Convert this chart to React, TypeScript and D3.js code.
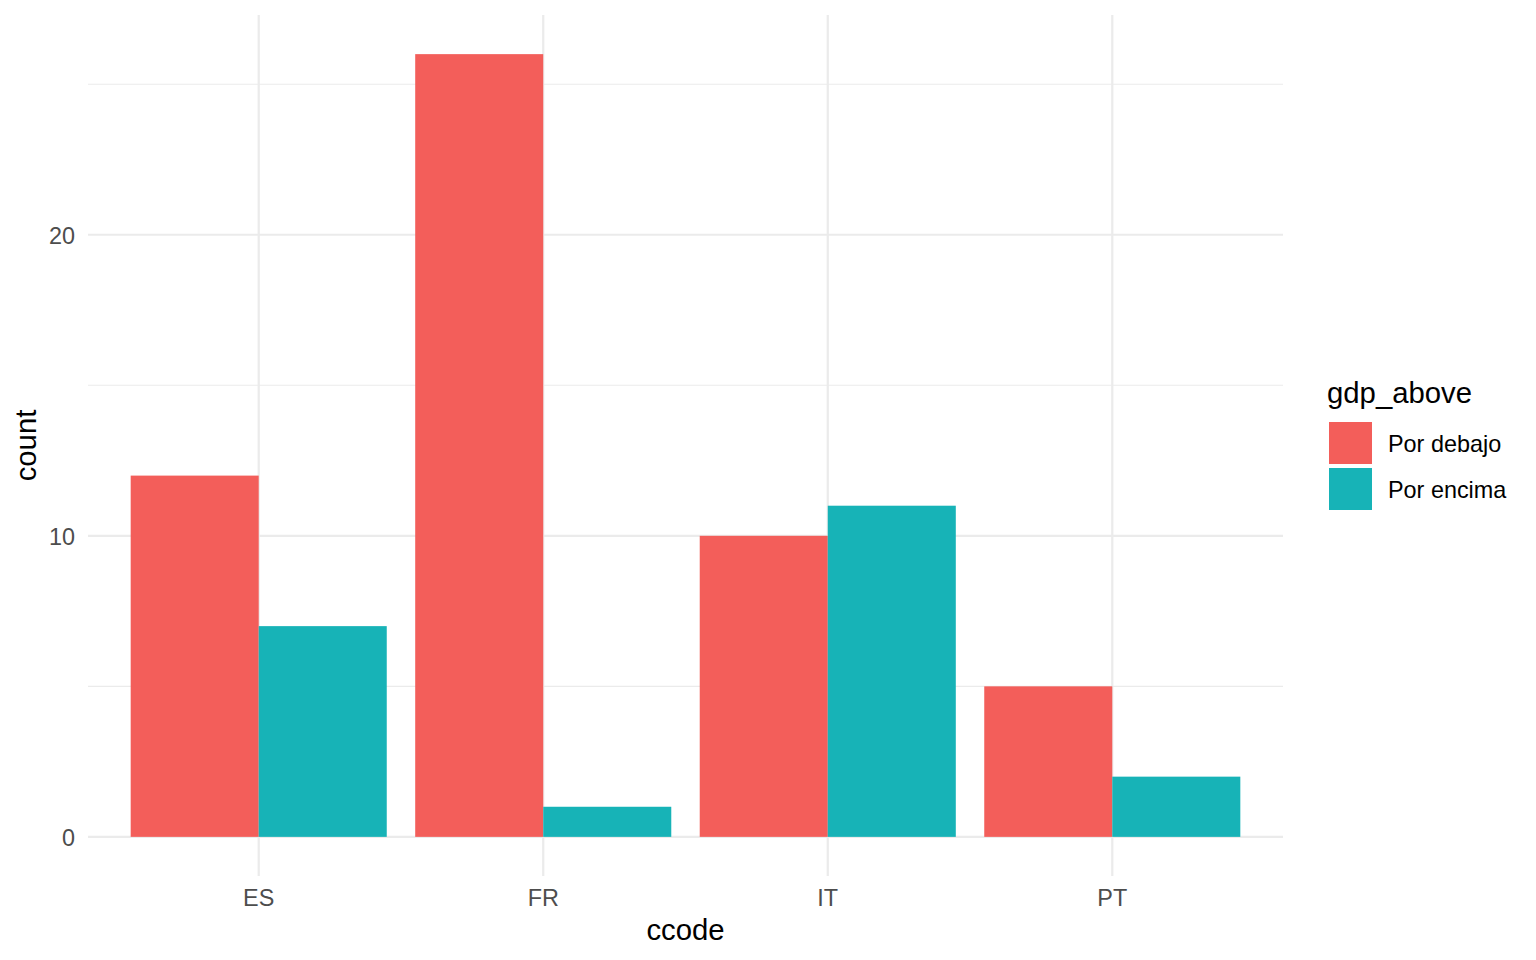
import React from "react";
import * as d3 from "d3";

const categories = ["ES", "FR", "IT", "PT"];
const groups = ["Por debajo", "Por encima"];
const porDebajo = [12, 26, 10, 5];
const porEncima = [7, 1, 11, 2];
const barColors = ["#F35E5A", "#17B3B7"];
const yMajor = [0, 10, 20];
const yMinor = [5, 15, 25];

const W = 1536;
const H = 960;
const panel = { left: 88, right: 1283, top: 15, bottom: 876 };

export default function App() {
  const x = d3
    .scaleLinear()
    .domain([0.4, 4.6])
    .range([panel.left, panel.right]);
  const y = d3
    .scaleLinear()
    .domain([-1.3, 27.3])
    .range([panel.bottom, panel.top]);
  const series = [porDebajo, porEncima];
  const bw = 0.45;
  const font = "'Liberation Sans', Arial, Helvetica, sans-serif";
  const tickFs = 23.4;
  const titleFs = 29.3;

  return (
    <svg
      width={W}
      height={H}
      style={{ position: "fixed", left: 0, top: 0, background: "#fff" }}
      fontFamily={font}
    >
      {yMinor.map((v) => (
        <line key={"mi" + v} x1={panel.left} x2={panel.right} y1={y(v)} y2={y(v)} stroke="#EBEBEB" strokeWidth={1.1} />
      ))}
      {yMajor.map((v) => (
        <line key={"ma" + v} x1={panel.left} x2={panel.right} y1={y(v)} y2={y(v)} stroke="#EBEBEB" strokeWidth={2.2} />
      ))}
      {categories.map((c, i) => (
        <line key={"vx" + c} x1={x(i + 1)} x2={x(i + 1)} y1={panel.top} y2={panel.bottom} stroke="#EBEBEB" strokeWidth={2.2} />
      ))}
      {series.map((vals, g) =>
        vals.map((v, i) => {
          const x0 = x(i + 1 - bw + g * bw);
          const x1 = x(i + 1 + g * bw);
          return (
            <rect
              key={g + "-" + i}
              x={x0}
              y={y(v)}
              width={x1 - x0}
              height={y(0) - y(v)}
              fill={barColors[g]}
            />
          );
        })
      )}
      {yMajor.map((v) => (
        <text key={"yt" + v} x={75} y={y(v) + 9} textAnchor="end" fontSize={tickFs} fill="#4D4D4D">
          {v}
        </text>
      ))}
      {categories.map((c, i) => (
        <text key={"xt" + c} x={x(i + 1)} y={906} textAnchor="middle" fontSize={tickFs} fill="#4D4D4D">
          {c}
        </text>
      ))}
      <text x={(panel.left + panel.right) / 2} y={940} textAnchor="middle" fontSize={titleFs} fill="#000">
        ccode
      </text>
      <text
        transform={`translate(36,${(panel.top + panel.bottom) / 2}) rotate(-90)`}
        textAnchor="middle"
        fontSize={titleFs}
        fill="#000"
      >
        count
      </text>
      <text x={1327} y={403} fontSize={titleFs} fill="#000">
        gdp_above
      </text>
      {groups.map((g, i) => (
        <g key={"lg" + g}>
          <rect x={1329} y={422 + i * 46} width={43} height={42} fill={barColors[i]} />
          <text x={1388} y={452 + i * 46} fontSize={tickFs} fill="#000">
            {g}
          </text>
        </g>
      ))}
    </svg>
  );
}
